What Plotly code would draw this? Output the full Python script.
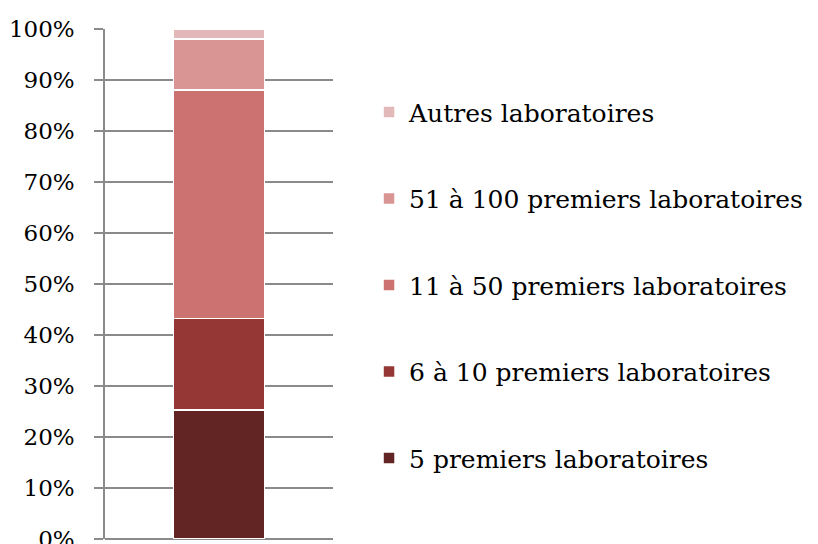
import plotly.graph_objects as go

# données (part en %)
categorie = ["Marché"]
series = ["5 premiers laboratoires", "6 à 10 premiers laboratoires",
          "11 à 50 premiers laboratoires", "51 à 100 premiers laboratoires",
          "Autres laboratoires"]
valeurs = [25.3, 17.9, 44.8, 10.0, 2.0]
couleurs = ["#632523", "#953735", "#CC7371", "#D99594", "#E2B9B8"]

tick_vals = [0, 10, 20, 30, 40, 50, 60, 70, 80, 90, 100]
tick_text = [f"{v}%" for v in tick_vals]

fig = go.Figure()
for i, (nom, val, col) in enumerate(zip(series, valeurs, couleurs)):
    fig.add_trace(go.Bar(
        x=categorie, y=[val], name=nom, legendgroup=nom,
        legendrank=len(series) - i,
        marker=dict(color=col, line=dict(color="white", width=1.5)),
        width=0.4,
    ))

gris = "#8a8a8a"
fig.update_layout(
    barmode="stack",
    width=818, height=544,
    margin=dict(l=105, r=485, t=29, b=5),
    plot_bgcolor="white", paper_bgcolor="white",
    font=dict(family="DejaVu Serif", size=23, color="black"),
    showlegend=True,
    legend=dict(
        x=1.158, xanchor="left", y=0.882, yanchor="top",
        traceorder="grouped", tracegroupgap=51,
        font=dict(size=25), bgcolor="rgba(0,0,0,0)",
    ),
    xaxis=dict(showticklabels=False, showgrid=False, zeroline=False,
               showline=False, ticks="", automargin=False),
    yaxis=dict(range=[0, 100], tickvals=tick_vals, ticktext=tick_text,
               showgrid=True, gridcolor=gris, gridwidth=1.5,
               showline=True, linecolor=gris, linewidth=1.5,
               ticks="outside", ticklen=9, tickcolor=gris, tickwidth=1.5,
               ticklabelstandoff=15, ticklabeloverflow="allow",
               automargin=False,
               zeroline=True, zerolinecolor=gris, zerolinewidth=1.5),
)

# pas de marge autour du graphique dans la page
fig.write_html("out.html", config={"displayModeBar": False},
               post_script="document.body.style.margin='0';")
